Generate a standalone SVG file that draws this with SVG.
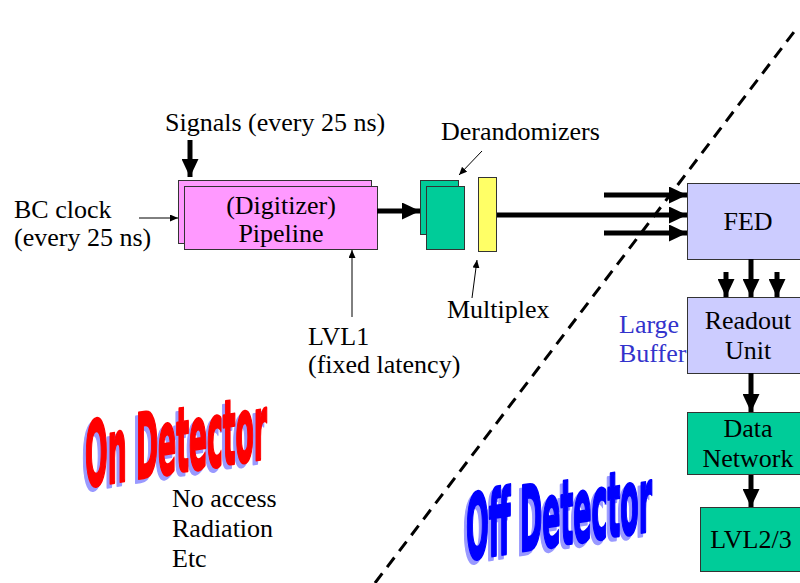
<svg xmlns="http://www.w3.org/2000/svg" width="800" height="583" viewBox="0 0 800 583">
<style>
text{font-family:"Liberation Serif","Times New Roman","DejaVu Serif",serif;font-size:26px;fill:#000}
.c{text-anchor:middle}
text.blue{fill:#3333cc}
.box{stroke:#333;stroke-width:1}
.thick{stroke:#000;stroke-width:5;fill:none}
.thin{stroke:#000;stroke-width:1;fill:none}
text.wa{font-family:"DejaVu Sans",sans-serif;font-weight:bold;font-size:90px;stroke-linejoin:round;stroke-width:3}
text.sh{fill:#9999ff;stroke:#9999ff}
text.red{fill:#ff0000;stroke:#ff0000}
text.bl{fill:#0000ff;stroke:#0000ff}
</style>
<defs>
<marker id="ah" markerUnits="userSpaceOnUse" markerWidth="18" markerHeight="17" refX="18" refY="8.5" orient="auto"><path d="M0,0 L18,8.5 L0,17 z" fill="#000"/></marker>
<marker id="as" markerUnits="userSpaceOnUse" markerWidth="8" markerHeight="7" refX="8" refY="3.5" orient="auto"><path d="M0,0 L8,3.5 L0,7 z" fill="#000"/></marker>
</defs>
<rect width="800" height="583" fill="#fff"/>
<line x1="375" y1="583" x2="797" y2="28" stroke="#000" stroke-width="3" stroke-dasharray="12 8"/>
<g id="pipeline">
<rect class="box" x="178.5" y="180.5" width="193" height="63" fill="#ff99ff"/>
<rect class="box" x="184.5" y="186.5" width="193" height="63" fill="#ff99ff"/>
<text class="c" x="281" y="214">(Digitizer)</text>
<text class="c" x="281" y="242">Pipeline</text>
</g>
<g id="derandomizers">
<rect class="box" x="420.5" y="180.5" width="38" height="54" fill="#00cc99"/>
<rect class="box" x="426.5" y="186.5" width="38" height="63" fill="#00cc99"/>
</g>
<g id="multiplex">
<rect class="box" x="478.5" y="177.5" width="18" height="74" fill="#ffff66"/>
</g>
<g id="fed">
<rect class="box" x="687.5" y="183.5" width="130" height="76" fill="#ccccff" stroke="#555"/>
<text class="c" x="748" y="230">FED</text>
</g>
<g id="readout">
<rect class="box" x="687.5" y="297.5" width="130" height="76" fill="#ccccff" stroke="#555"/>
<text class="c" x="748" y="329">Readout</text>
<text class="c" x="748" y="359">Unit</text>
</g>
<g id="datanetwork">
<rect class="box" x="687.5" y="412.5" width="130" height="62" fill="#00cc99"/>
<text class="c" x="748" y="437">Data</text>
<text class="c" x="748" y="467">Network</text>
</g>
<g id="lvl23">
<rect class="box" x="700.5" y="507.5" width="120" height="64" fill="#00cc99"/>
<text class="c" x="751" y="548">LVL2/3</text>
</g>
<g id="connectors">
<line class="thick" x1="190" y1="140" x2="190" y2="177" marker-end="url(#ah)"/>
<line class="thin" x1="139" y1="218" x2="178" y2="218" marker-end="url(#as)"/>
<line class="thin" x1="352" y1="317" x2="352" y2="250" marker-end="url(#as)"/>
<line class="thick" x1="377" y1="211" x2="420" y2="211" marker-end="url(#ah)"/>
<line class="thin" x1="482" y1="151" x2="459" y2="175" marker-end="url(#as)"/>
<line class="thin" x1="472" y1="298" x2="477" y2="260" marker-end="url(#as)"/>
<line class="thick" x1="497" y1="215" x2="687" y2="215" marker-end="url(#ah)"/>
<line class="thick" x1="604" y1="195" x2="687" y2="195" marker-end="url(#ah)"/>
<line class="thick" x1="604" y1="233" x2="687" y2="233" marker-end="url(#ah)"/>
<line class="thick" x1="751" y1="259" x2="751" y2="297" marker-end="url(#ah)"/>
<line class="thick" x1="726" y1="272" x2="726" y2="297" marker-end="url(#ah)"/>
<line class="thick" x1="777" y1="272" x2="777" y2="297" marker-end="url(#ah)"/>
<line class="thick" x1="751" y1="373" x2="751" y2="412" marker-end="url(#ah)"/>
<line class="thick" x1="751" y1="475" x2="751" y2="507" marker-end="url(#ah)"/>
</g>
<g id="labels">
<text x="165" y="131">Signals (every 25 ns)</text>
<text x="441" y="140">Derandomizers</text>
<text x="14" y="218">BC clock</text>
<text x="14" y="246">(every 25 ns)</text>
<text x="447" y="318">Multiplex</text>
<text x="308" y="345">LVL1</text>
<text x="308" y="373">(fixed latency)</text>
<text class="blue" x="619" y="333">Large</text>
<text class="blue" x="619" y="362">Buffer</text>
<text x="172" y="507">No access</text>
<text x="172" y="537">Radiation</text>
<text x="172" y="567">Etc</text>
</g>
<g id="on-detector">
<text class="wa sh" transform="translate(82,491) skewY(-9)" textLength="182" lengthAdjust="spacingAndGlyphs">On Detector</text>
<text class="wa red" transform="translate(85,487) skewY(-9)" textLength="182" lengthAdjust="spacingAndGlyphs">On Detector</text>
</g>
<g id="off-detector">
<text class="wa sh" transform="translate(463,564) skewY(-9)" textLength="186" lengthAdjust="spacingAndGlyphs">Off Detector</text>
<text class="wa bl" transform="translate(466,560) skewY(-9)" textLength="186" lengthAdjust="spacingAndGlyphs">Off Detector</text>
</g>
</svg>
